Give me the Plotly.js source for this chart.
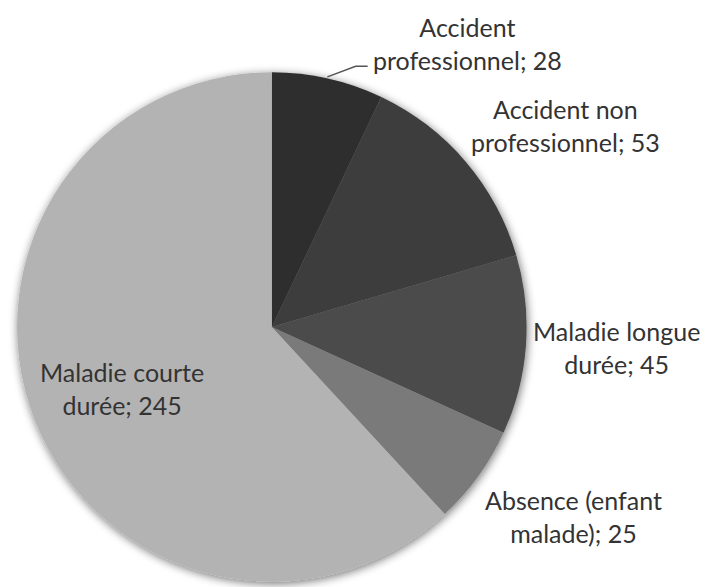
<!DOCTYPE html>
<html>
<head>
<meta charset="utf-8">
<script src="https://cdn.plot.ly/plotly-3.0.1.min.js"></script>
<style>
  body { margin: 0; background: #fff; }
  #plotArea { width: 707px; height: 587px; }
</style>
</head>
<body>
<div id="plotArea"></div>
<script>
// absences par motif
var categories = ["Accident professionnel", "Accident non professionnel", "Maladie longue durée", "Absence (enfant malade)", "Maladie courte durée"];
var values = [28, 53, 45, 25, 245];
var labelText = ["Accident<br>professionnel; 28", "Accident non<br>professionnel; 53", "Maladie longue<br>durée; 45", "Absence (enfant<br>malade); 25", "Maladie courte<br>durée; 245"];
var colors = ["#2f2f2f", "#3c3c3c", "#4b4b4b", "#7a7a7a", "#b3b3b3"];

var trace = {
    labels: categories,
    values: values,
    type: 'pie',
    sort: false,
    direction: 'clockwise',
    rotation: 0,
    textinfo: 'none',
    hoverinfo: 'label+value',
    marker: { colors: colors, line: { width: 0 } },
    domain: { x: [0.024, 0.745], y: [0.009, 0.877] }
};

// label spots (paper coords)
var labelX = [0.661, 0.800, 0.872, 0.811, 0.173];
var labelY = [0.926, 0.786, 0.408, 0.120, 0.339];

var annotations = labelText.map(function(t, i) {
    return {
        text: t, xref: 'paper', yref: 'paper',
        x: labelX[i], y: labelY[i], showarrow: false,
        xanchor: 'center', yanchor: 'middle', align: 'center',
        font: { family: 'Lato, sans-serif', size: 25, color: '#333333' }
    };
});

var layout = {
    width: 707, height: 587,
    margin: { l: 0, r: 0, t: 0, b: 0 },
    showlegend: false,
    paper_bgcolor: '#ffffff',
    annotations: annotations,
    shapes: [{
        type: 'path', xref: 'paper', yref: 'paper',
        path: 'M 0.463 0.869 L 0.503 0.887 L 0.520 0.887',
        line: { color: '#555555', width: 1.5 }
    }]
};

Plotly.newPlot("plotArea", [trace], layout, { displayModeBar: false }).then(function(gd) {
    // soft shadow round the pie
    var svg = gd.querySelector('.main-svg');
    var ns = 'http://www.w3.org/2000/svg';
    var defs = svg.querySelector('defs');
    var f = document.createElementNS(ns, 'filter');
    f.setAttribute('id', 'pieShadow');
    f.setAttribute('x', '-10%'); f.setAttribute('y', '-10%');
    f.setAttribute('width', '120%'); f.setAttribute('height', '120%');
    f.innerHTML = '<feGaussianBlur in="SourceAlpha" stdDeviation="5"/>' +
        '<feOffset dx="1" dy="2" result="b"/>' +
        '<feComponentTransfer><feFuncA type="linear" slope="0.55"/></feComponentTransfer>' +
        '<feMerge><feMergeNode/><feMergeNode in="SourceGraphic"/></feMerge>';
    defs.appendChild(f);
    svg.querySelector('.pielayer').setAttribute('filter', 'url(#pieShadow)');
});
</script>
</body>
</html>
